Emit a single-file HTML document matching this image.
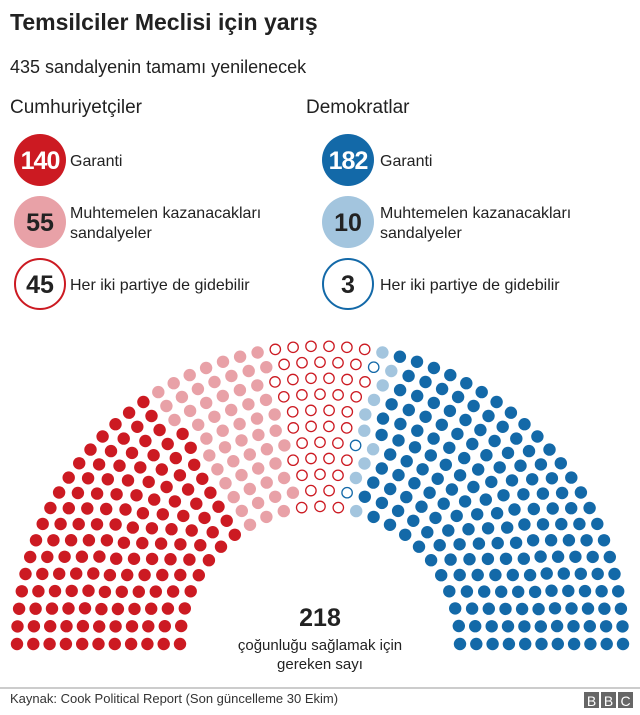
<!DOCTYPE html>
<html><head><meta charset="utf-8"><style>
body{margin:0;background:#fff;}
svg{display:block;font-family:"Liberation Sans",Arial,sans-serif;}
</style></head><body>
<svg id="s" width="640" height="715" viewBox="0 0 640 715" xmlns="http://www.w3.org/2000/svg">
<text x="10" y="30" font-size="23" font-weight="bold" fill="#222">Temsilciler Meclisi için yarış</text>
<text x="10" y="73" font-size="18" fill="#222">435 sandalyenin tamamı yenilenecek</text>
<text x="10" y="113" font-size="19" fill="#222">Cumhuriyetçiler</text>
<text x="306" y="113" font-size="19" fill="#222">Demokratlar</text>

<circle cx="40" cy="160" r="26" fill="#cc1a22"/>
<text x="40" y="169" font-size="25" font-weight="bold" fill="#fff" text-anchor="middle" letter-spacing="-1">140</text>
<text x="70" y="166" font-size="16" fill="#222">Garanti</text>
<circle cx="40" cy="222" r="26" fill="#e8a1a7"/>
<text x="40" y="231" font-size="25" font-weight="bold" fill="#222" text-anchor="middle">55</text>
<text x="70" y="218" font-size="16" fill="#222">Muhtemelen kazanacakları</text>
<text x="70" y="238" font-size="16" fill="#222">sandalyeler</text>
<circle cx="40" cy="284" r="25" fill="#fff" stroke="#cc1a22" stroke-width="2"/>
<text x="40" y="293" font-size="25" font-weight="bold" fill="#222" text-anchor="middle">45</text>
<text x="70" y="290" font-size="16" fill="#222">Her iki partiye de gidebilir</text>

<circle cx="348" cy="160" r="26" fill="#1369a8"/>
<text x="348" y="169" font-size="25" font-weight="bold" fill="#fff" text-anchor="middle" letter-spacing="-1">182</text>
<text x="380" y="166" font-size="16" fill="#222">Garanti</text>
<circle cx="348" cy="222" r="26" fill="#a3c5de"/>
<text x="348" y="231" font-size="25" font-weight="bold" fill="#222" text-anchor="middle">10</text>
<text x="380" y="218" font-size="16" fill="#222">Muhtemelen kazanacakları</text>
<text x="380" y="238" font-size="16" fill="#222">sandalyeler</text>
<circle cx="348" cy="284" r="25" fill="#fff" stroke="#1369a8" stroke-width="2"/>
<text x="348" y="293" font-size="25" font-weight="bold" fill="#222" text-anchor="middle">3</text>
<text x="380" y="290" font-size="16" fill="#222">Her iki partiye de gidebilir</text>

<g id="dots"></g>

<text x="320" y="626" font-size="25" font-weight="bold" fill="#222" text-anchor="middle">218</text>
<text x="320" y="650" font-size="15" fill="#222" text-anchor="middle">çoğunluğu sağlamak için</text>
<text x="320" y="669" font-size="15" fill="#222" text-anchor="middle">gereken sayı</text>

<line x1="0" y1="688" x2="640" y2="688" stroke="#999" stroke-width="1"/>
<text x="10" y="703" font-size="13" fill="#333">Kaynak: Cook Political Report (Son güncelleme 30 Ekim)</text>
<rect x="584" y="692" width="15" height="16" fill="#666"/>
<rect x="601" y="692" width="15" height="16" fill="#666"/>
<rect x="618" y="692" width="15" height="16" fill="#666"/>
<text x="591.5" y="706" font-size="14" fill="#fff" text-anchor="middle">B</text>
<text x="608.5" y="706" font-size="14" fill="#fff" text-anchor="middle">B</text>
<text x="625.5" y="706" font-size="14" fill="#fff" text-anchor="middle">C</text>
</svg>
<script>
(function(){
var cx=320, cy=644, rin=140, rout=303, rows=11, total=435, ys=0.983;
var radii=[],sum=0;
for(var i=0;i<rows;i++){var r=rin+i*(rout-rin)/(rows-1);radii.push(r);sum+=r;}
var counts=radii.map(function(r){return Math.floor(total*r/sum);});
var c=counts.reduce(function(a,b){return a+b;},0);
var rem=radii.map(function(r,i){return {i:i,f:total*r/sum-counts[i]};}).sort(function(a,b){return b.f-a.f;});
for(var k=0;c<total;k++,c++)counts[rem[k].i]++;
var seats=[];
for(var i=0;i<rows;i++){
  var n=counts[i],r=radii[i];
  for(var j=0;j<n;j++){
    var a=Math.PI-(n==1?Math.PI/2:j*Math.PI/(n-1));
    seats.push({a:a,x:cx+r*Math.cos(a),y:cy-r*ys*Math.sin(a)});
  }
}
seats.sort(function(p,q){return q.a-p.a;});
var groups=[[140,'#cc1a22',0],[55,'#e8a1a7',0],[45,'#cc1a22',1],[3,'#1369a8',1],[10,'#a3c5de',0],[182,'#1369a8',0]];
var g=document.getElementById('dots'),ns='http://www.w3.org/2000/svg',idx=0;
groups.forEach(function(gr){
  for(var k=0;k<gr[0];k++){
    var s=seats[idx++],e=document.createElementNS(ns,'circle');
    e.setAttribute('cx',s.x.toFixed(1));e.setAttribute('cy',s.y.toFixed(1));
    if(gr[2]){e.setAttribute('r','5.2');e.setAttribute('fill','#fff');e.setAttribute('stroke',gr[1]);e.setAttribute('stroke-width','1.3');}
    else{e.setAttribute('r','6.2');e.setAttribute('fill',gr[1]);}
    g.appendChild(e);
  }
});
})();
</script>
</body></html>
